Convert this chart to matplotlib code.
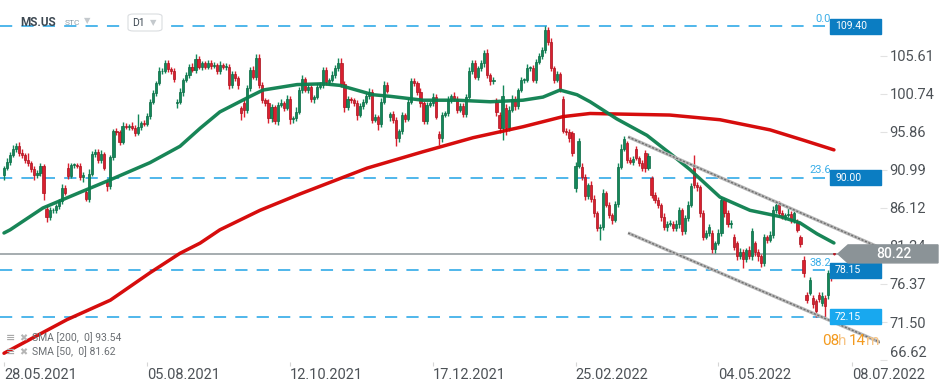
import numpy as np
import matplotlib.pyplot as plt
from matplotlib.patches import Rectangle, Polygon, FancyBboxPatch
from matplotlib.transforms import blended_transform_factory

plt.rcParams['font.family'] = ['Roboto', 'DejaVu Sans']

# daily closes, MS.US D1
closes = [
    91.2, 92.0, 92.9, 93.7, 94.1, 93.1, 92.9, 92.3, 91.8, 91.1,
    90.3, 90.6, 91.5, 88.0, 85.0, 85.8, 85.8, 86.3, 87.0, 88.6,
    88.0, 90.2, 91.6, 91.6, 91.5, 90.1, 90.3, 87.3, 90.5, 93.0,
    93.3, 92.2, 93.0, 91.2, 88.9, 92.6, 95.9, 95.8, 94.6, 96.6,
    96.5, 96.6, 96.4, 95.7, 96.5, 97.0, 96.9, 97.9, 99.7, 100.8,
    102.1, 103.6, 103.7, 104.6, 103.9, 103.6, 102.6, 99.7, 100.9, 102.5,
    103.1, 104.2, 103.8, 105.2, 104.2, 104.6, 104.2, 104.7, 104.3, 104.4,
    103.6, 104.4, 104.2, 104.2, 101.8, 103.3, 102.7, 101.8, 98.2, 98.7,
    101.4, 103.8, 102.9, 105.3, 101.8, 99.9, 99.5, 97.6, 99.0, 97.2,
    99.3, 99.5, 98.9, 100.1, 97.5, 97.6, 98.4, 101.2, 102.6, 101.2,
    101.6, 100.0, 100.3, 101.6, 101.9, 103.8, 102.2, 102.5, 103.1, 104.0,
    104.7, 102.0, 99.0, 100.0, 99.9, 99.6, 98.0, 99.2, 99.7, 100.4,
    101.0, 97.4, 97.7, 96.9, 99.7, 101.8, 101.1, 98.1, 97.4, 95.0,
    95.9, 98.0, 97.5, 99.7, 102.3, 102.1, 101.0, 99.5, 97.2, 99.3,
    99.5, 100.3, 97.8, 95.0, 98.0, 98.2, 100.0, 100.4, 100.1, 98.7,
    99.2, 98.1, 100.3, 103.6, 104.6, 102.9, 104.0, 104.6, 106.0, 103.1,
    102.3, 102.5, 98.4, 96.3, 100.4, 96.3, 98.7, 100.1, 99.1, 101.2,
    102.5, 102.5, 104.0, 104.0, 102.5, 104.8, 105.6, 106.3, 108.9, 107.4,
    104.0, 102.5, 103.2, 101.3, 96.0, 95.8, 95.0, 93.2, 91.5, 94.7,
    90.1, 87.6, 89.0, 87.3, 85.4, 83.5, 83.7, 88.0, 86.5, 85.2,
    84.6, 86.6, 91.4, 93.7, 94.9, 92.2, 92.0, 92.4, 92.5, 91.8,
    91.2, 91.2, 92.7, 87.8, 87.1, 86.5, 85.0, 83.7, 84.1, 84.1,
    83.5, 84.1, 85.8, 83.1, 84.8, 86.5, 88.9, 89.0, 88.8, 85.4,
    82.4, 82.9, 83.7, 80.9, 81.6, 82.9, 87.1, 85.4, 84.0, 84.2,
    81.1, 79.9, 80.5, 79.6, 80.7, 79.9, 83.1, 80.5, 79.9, 79.0,
    82.4, 82.0, 82.6, 85.8, 86.5, 85.4, 85.0, 85.2, 85.3, 84.6,
    85.4, 83.3, 81.5, 77.8, 74.3, 76.9, 73.8, 72.9, 74.4, 74.8,
    73.6, 77.8, 77.2, 80.2,
]

# opens that gap away from the previous close
gap_opens = {
    0: 90.3, 14: 86.0, 21: 91.2, 27: 88.2, 34: 89.4, 57: 99.5, 78: 98.9, 79: 99.5,
    127: 97.8, 143: 95.6, 162: 99.7, 163: 98.0, 165: 98.9, 184: 100.0,
    187: 95.7, 188: 88.6, 190: 91.4, 205: 94.4, 208: 93.7, 211: 93.2, 213: 89.9,
    227: 91.6, 233: 82.9, 240: 82.4, 241: 81.6, 247: 81.6, 255: 86.7, 261: 84.3,
    262: 82.4, 263: 79.5, 264: 75.0, 265: 75.2, 266: 74.6, 267: 74.2, 268: 75.0,
    269: 73.9, 270: 74.6, 271: 74.9, 272: 78.4, 273: 80.3,
}

# shadow lengths above / below the body
wick_up = [
    0.3, 0.5, 0.4, 0.5, 0.3, 0.4, 0.6, 0.3, 0.8, 0.3,
    0.4, 0.3, 0.3, 0.2, 0.5, 0.4, 0.3, 0.3, 0.3, 0.6,
    0.4, 0.6, 0.3, 0.2, 0.3, 0.3, 0.4, 0.3, 0.6, 0.4,
    0.4, 0.3, 0.5, 0.3, 0.3, 0.3, 0.3, 0.4, 0.3, 0.5,
    0.4, 0.3, 0.5, 0.3, 1.6, 0.3, 0.4, 0.3, 0.3, 0.4,
    0.3, 0.5, 0.3, 0.4, 0.5, 0.3, 0.4, 0.3, 0.5, 0.3,
    0.4, 0.3, 0.5, 0.6, 0.4, 0.3, 0.3, 0.4, 0.3, 0.4,
    0.3, 0.5, 0.3, 0.4, 0.3, 0.4, 0.3, 0.3, 0.3, 0.6,
    0.4, 0.3, 0.5, 0.5, 0.5, 0.4, 0.3, 0.5, 0.4, 0.3,
    0.4, 0.5, 0.3, 0.5, 0.4, 0.3, 0.6, 0.4, 0.5, 0.3,
    0.4, 0.3, 0.3, 0.5, 0.3, 0.4, 0.3, 0.3, 0.5, 0.4,
    0.6, 0.6, 0.3, 0.4, 0.3, 0.3, 0.3, 0.4, 0.3, 0.4,
    0.5, 0.3, 0.4, 0.3, 0.5, 0.5, 0.4, 0.3, 0.4, 0.3,
    0.3, 0.4, 0.3, 0.5, 0.5, 0.4, 0.3, 0.4, 0.3, 0.4,
    0.3, 0.5, 0.4, 0.3, 0.4, 0.3, 0.4, 0.3, 0.5, 0.3,
    0.4, 0.3, 0.4, 0.6, 0.5, 0.4, 0.3, 0.5, 0.3, 0.4,
    0.3, 0.4, 0.5, 0.4, 1.4, 0.5, 0.4, 0.5, 0.4, 0.3,
    0.4, 0.3, 0.5, 0.3, 0.4, 0.4, 0.3, 0.4, 0.5, 0.4,
    0.5, 0.3, 0.4, 0.3, 0.4, 0.3, 0.4, 0.3, 0.5, 0.4,
    0.5, 0.4, 0.3, 0.5, 0.4, 0.3, 0.4, 0.5, 0.3, 0.4,
    0.3, 0.4, 0.5, 0.6, 0.4, 0.3, 0.4, 0.3, 0.4, 0.3,
    0.4, 0.3, 0.4, 0.3, 0.3, 0.4, 0.3, 0.4, 0.3, 0.4,
    0.3, 0.5, 0.4, 0.3, 0.4, 0.5, 0.4, 1.3, 0.4, 0.3,
    0.5, 0.4, 0.3, 0.4, 0.3, 0.5, 0.4, 0.3, 0.4, 0.3,
    0.4, 0.3, 0.5, 0.4, 0.3, 0.5, 0.4, 0.3, 0.4, 0.3,
    0.4, 0.3, 0.5, 0.6, 0.4, 0.3, 0.4, 0.3, 0.8, 0.4,
    0.3, 0.4, 0.3, 0.4, 0.4, 0.3, 0.4, 0.3, 0.4, 0.5,
    0.4, 0.3, 0.3, 0.1,
]
wick_dn = [
    0.6, 0.3, 0.4, 0.3, 0.4, 0.3, 0.4, 0.5, 0.3, 0.4,
    0.6, 0.3, 0.4, 0.9, 0.7, 0.5, 0.3, 0.4, 0.3, 0.4,
    0.3, 0.4, 0.3, 0.4, 0.3, 0.4, 0.7, 0.3, 0.4, 0.3,
    0.4, 0.3, 0.4, 0.3, 0.6, 0.4, 0.3, 0.3, 0.4, 0.3,
    0.3, 0.4, 0.3, 0.4, 0.3, 0.4, 0.3, 0.3, 0.4, 0.3,
    0.4, 0.3, 0.4, 0.3, 0.4, 0.3, 0.4, 0.6, 0.3, 0.4,
    0.3, 0.4, 0.3, 0.4, 0.3, 0.4, 0.3, 0.3, 0.4, 0.3,
    0.4, 0.3, 0.3, 0.4, 0.5, 0.3, 0.4, 0.5, 0.8, 1.0,
    0.4, 0.3, 0.3, 0.4, 0.4, 0.3, 0.4, 0.6, 0.5, 0.4,
    0.5, 0.3, 0.4, 0.3, 0.6, 0.5, 0.3, 0.3, 0.4, 0.3,
    0.4, 0.3, 0.4, 0.3, 0.3, 0.4, 0.3, 0.4, 0.3, 0.3,
    0.3, 0.4, 0.6, 0.4, 0.3, 0.4, 0.6, 0.3, 0.4, 0.3,
    0.3, 0.4, 0.3, 0.8, 0.4, 0.3, 0.3, 0.5, 0.4, 1.0,
    0.4, 0.3, 0.4, 0.3, 0.3, 0.4, 0.4, 0.5, 0.3, 0.4,
    0.3, 0.4, 0.3, 0.8, 0.5, 0.3, 0.3, 0.4, 0.3, 0.4,
    0.3, 0.4, 0.3, 0.3, 0.4, 0.3, 0.4, 0.3, 0.4, 0.3,
    0.4, 0.3, 0.5, 0.6, 1.5, 0.9, 0.4, 0.3, 0.4, 0.3,
    0.3, 0.4, 0.3, 0.4, 0.3, 0.4, 0.3, 0.4, 0.3, 0.4,
    0.3, 0.4, 0.3, 0.4, 0.3, 0.4, 0.5, 0.4, 0.4, 0.3,
    0.4, 0.5, 0.3, 0.4, 0.5, 0.4, 1.5, 0.4, 0.3, 0.4,
    0.5, 0.3, 0.4, 0.3, 0.3, 0.4, 0.3, 0.4, 0.3, 0.3,
    0.4, 0.5, 0.3, 0.4, 0.3, 0.4, 0.6, 0.4, 0.5, 0.3,
    0.4, 0.3, 0.5, 0.4, 0.3, 0.4, 0.3, 0.4, 0.5, 0.4,
    0.4, 0.3, 0.4, 0.6, 0.5, 0.3, 0.4, 0.5, 0.3, 0.4,
    0.4, 0.5, 0.3, 1.2, 0.4, 0.3, 0.4, 0.5, 0.6, 0.4,
    0.3, 0.4, 0.3, 0.4, 0.3, 0.4, 0.3, 0.4, 0.3, 0.4,
    0.4, 0.3, 0.4, 0.5, 0.4, 0.3, 0.5, 0.8, 0.4, 0.3,
    1.4, 0.4, 0.4, 0.1,
]

# moving averages, read at points along the lines (bar index, value)
sma50_idx = [0, 2, 12.8, 25, 34.9, 48, 57.9, 64.5, 71, 80, 85.2, 96.4, 105, 110.5,
             121.4, 127, 137.8, 149, 160, 170.7, 177.3, 182.9, 188.5, 192.8, 201.6,
             211.5, 219.7, 225.7, 235.5, 245.4, 255.3, 261.8, 267.4, 273]
sma50_val = [82.9, 83.3, 86.1, 88.1, 89.7, 91.9, 94.0, 96.3, 98.4, 100.2, 101.2, 101.9,
             102.0, 101.8, 100.6, 100.4, 99.9, 99.9, 99.7, 99.9, 100.3, 101.2, 100.6,
             99.7, 97.5, 95.4, 92.9, 91.0, 87.5, 85.8, 85.0, 84.2, 82.8, 81.62]
sma200_idx = [0, 20.7, 35, 48, 57.9, 64.5, 71, 84.2, 97.4, 119.4, 137.8, 154.3,
              170.7, 183.9, 192.8, 219, 235.5, 252, 262.8, 273]
sma200_val = [67.5, 71.8, 74.3, 77.8, 80.3, 81.6, 83.3, 85.8, 87.9, 91.2, 93.3, 95.1,
              96.5, 97.8, 98.2, 98.0, 97.4, 96.1, 94.8, 93.54]

fib_levels = [109.40, 90.00, 78.15, 72.15]
fib_ratios = ['0.0', '23.6', '38.2', '']
fib_box_colors = ['#0b7dc2', '#0b7dc2', '#0b7dc2', '#18a8ef']
last_price = 80.22

# drawn downtrend channel
channel_idx = [205.3, 288.2]
channel_upper = [95.2, 81.0]
channel_lower = [82.9, 68.9]

yticks = [66.62, 71.50, 76.37, 81.24, 86.12, 90.99, 95.86, 100.74, 105.61]
date_idx = [0, 47, 94, 141, 188, 235, 279]
date_labels = ['28.05.2021', '05.08.2021', '12.10.2021', '17.12.2021',
               '25.02.2022', '04.05.2022', '08.07.2022']

n = len(closes)
idx = np.arange(n)
c = np.array(closes)
o = np.array([gap_opens.get(i, closes[i - 1] if i > 0 else closes[0]) for i in range(n)])
hi = np.maximum(o, c) + np.array(wick_up)
lo = np.minimum(o, c) - np.array(wick_dn)

W, H = 949, 385
fig = plt.figure(figsize=(W / 100, H / 100), dpi=100)
ax = fig.add_axes([0, 1 - 362 / H, 880 / W, 362 / H])
ax.set_xlim(-4 / 3.04, 876 / 3.04)
ax.set_ylim(66.38, 112.73)
px = (112.73 - 66.38) / 362  # price units per pixel
blend = blended_transform_factory(ax.transAxes, ax.transData)

up = c >= o
green, green_e = '#13875a', '#0c6a44'
red, red_e = '#d9202f', '#a9141f'
cols = np.where(up, green, red)
ecols = np.where(up, green_e, red_e)
ax.vlines(idx, lo, hi, colors=cols, lw=1, zorder=3)
body = np.maximum(np.abs(c - o), 0.1)
ax.bar(idx, body, bottom=np.minimum(o, c), width=0.7, color=cols,
       edgecolor=ecols, linewidth=0.5, zorder=4)

ax.plot(sma200_idx, sma200_val, color='#d40000', lw=2.5, alpha=0.95,
        solid_capstyle='round', solid_joinstyle='round', zorder=5)
ax.plot(sma50_idx, sma50_val, color='#0b7f4e', lw=2.5, alpha=0.95,
        solid_capstyle='round', solid_joinstyle='round', zorder=5)

# fibonacci levels
for lev, rat, bc in zip(fib_levels, fib_ratios, fib_box_colors):
    ax.axhline(lev, xmin=0, xmax=826 / 880, color='#1fa3e6', lw=1.1,
               ls=(0, (8, 6)), zorder=2)
    if rat:
        ax.text(831 / 880, lev + 2.5 * px, rat, transform=blend, ha='right',
                va='bottom', fontsize=8, color='#3aaee8', zorder=6)
    ax.add_patch(Rectangle((830 / 880, lev - 7.5 * px), 51 / 880, 15 * px,
                           transform=blend, color=bc, clip_on=False, zorder=7))
    ax.text(835 / 880, lev, f'{lev:.2f}', transform=blend, ha='left', va='center',
            fontsize=7.5, color='white', zorder=8, clip_on=False)

# channel
for yy in (channel_upper, channel_lower):
    ax.plot(channel_idx, yy, color='#b8b8b8', lw=2.4, zorder=6, solid_capstyle='butt')
    ax.plot(channel_idx, yy, color='#6e6e6e', lw=1.0, ls=(0, (1.5, 1.2)), zorder=6)

# last price line and tag
ax.axhline(last_price, xmin=0, xmax=838 / 880, color='#8d969a', lw=1.1, zorder=2)
tag = Polygon([(838 / 880, last_price), (848 / 880, last_price + 9 * px),
               (938 / 880, last_price + 9 * px), (938 / 880, last_price - 9 * px),
               (848 / 880, last_price - 9 * px)], closed=True, transform=blend,
              color='#8b9397', clip_on=False, zorder=10)
ax.add_patch(tag)
ax.text(894 / 880, last_price, f'{last_price:.2f}', transform=blend, ha='center',
        va='center', fontsize=10, color='white', fontweight='medium', zorder=11)

# axes cosmetics
for s in ax.spines.values():
    s.set_visible(False)
ax.yaxis.tick_right()
ax.set_yticks(yticks)
ax.set_yticklabels([f'{v:.2f}' for v in yticks])
ax.tick_params(axis='y', length=5, width=0.8, color='#e2e2e2', pad=2,
               labelsize=10.5, labelcolor='#4d5257')
ax.get_yticklabels()[0].set_verticalalignment('bottom')
ax.set_xticks(date_idx)
ax.set_xticklabels(date_labels)
ax.tick_params(axis='x', length=3, width=0.8, color='#d5d5d5', pad=1,
               labelsize=10.5, labelcolor='#4d5257')
for lbl in ax.get_xticklabels():
    lbl.set_horizontalalignment('left')

def ftext(x, y, s, **kw):
    fig.text(x / W, 1 - y / H, s, **kw)

# header
ftext(20, 22, 'MS.US', fontsize=8.5, fontweight='bold', color='#3d4852', va='center')
ftext(65, 23, 'STC', fontsize=6, color='#8b9ba6', va='center')
ftext(84, 21, '▼', fontsize=6, color='#c4c9cd', va='center', family=['DejaVu Sans'])
fig.add_artist(FancyBboxPatch((128 / W, 1 - 31 / H), 34 / W, 17 / H,
                              boxstyle='round,pad=0,rounding_size=0.006',
                              transform=fig.transFigure, fc='white', ec='#dadde0', lw=0.8))
ftext(132, 22.5, 'D1', fontsize=7.5, color='#3d4852', va='center')
ftext(150, 23, '▼', fontsize=6, color='#c4c9cd', va='center', family=['DejaVu Sans'])

# indicator legend
for yy, s in ((338, 'SMA [200,  0] 93.54'), (352, 'SMA [50,  0] 81.62')):
    ftext(6, yy, '≡', fontsize=8, color='#a9a9a9', va='center', fontweight='bold',
          family=['DejaVu Sans'])
    ftext(19, yy, '✖', fontsize=7, color='#b5b5b5', va='center', family=['DejaVu Sans'])
    ftext(32, yy, s, fontsize=7.5, color='#6b6f73', va='center')

# countdown
ftext(822, 341, '08', fontsize=11, color='#f39a1e', va='center')
ftext(838, 341, 'h', fontsize=11, color='#f7c484', va='center')
ftext(849, 341, '14', fontsize=11, color='#f39a1e', va='center')
ftext(866, 341, 'm', fontsize=11, color='#f7c484', va='center')

fig.savefig('out.png', dpi=100, facecolor='white')
